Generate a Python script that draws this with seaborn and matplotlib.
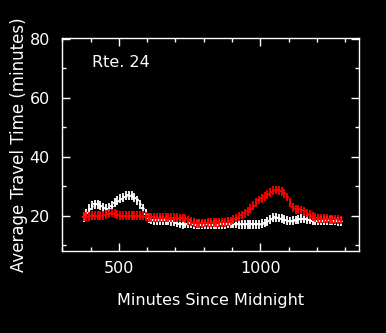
import matplotlib
matplotlib.use("Agg")
import matplotlib.pyplot as plt
from matplotlib.ticker import MultipleLocator, FixedLocator
import seaborn as sns
import pandas as pd

minutes = list(range(375, 1286, 10))

white_time = [19.5, 21.0, 22.5, 23.5, 24.0, 24.0, 23.5, 22.8, 22.5, 22.8,
              23.5, 24.5, 25.2, 25.8, 26.3, 26.8, 27.0, 26.8, 26.2, 25.3,
              24.0, 22.7, 20.8, 19.2, 18.6, 18.5, 18.5, 18.5, 18.5, 18.5,
              18.3, 18.2, 18.0, 17.6, 17.3, 17.2, 17.3, 17.5, 17.3, 17.1,
              17.0, 17.0, 17.0, 17.1, 17.1, 17.0, 17.0, 17.0, 17.1, 17.2,
              17.2, 17.3, 17.3, 17.3, 17.3, 17.2, 17.2, 17.2, 17.1, 17.1,
              17.1, 17.1, 17.2, 17.3, 17.6, 18.2, 18.9, 19.4, 19.5, 19.3,
              19.0, 18.7, 18.4, 18.3, 18.4, 18.6, 18.9, 19.0, 19.0, 18.8,
              18.6, 18.4, 18.3, 18.3, 18.4, 18.5, 18.5, 18.5, 18.4, 18.3,
              18.2, 18.2]

red_time = [19.7, 19.8, 19.9, 20.0, 20.0, 20.0, 20.1, 20.2, 20.5, 20.8,
            21.0, 20.8, 20.4, 20.1, 20.0, 20.0, 20.0, 20.0, 20.0, 20.0,
            20.0, 20.0, 19.8, 19.6, 19.5, 19.4, 19.4, 19.4, 19.4, 19.4,
            19.4, 19.4, 19.4, 19.4, 19.3, 19.3, 19.0, 18.5, 18.0, 17.7,
            17.5, 17.5, 17.5, 17.6, 17.7, 17.7, 17.8, 17.8, 17.8, 17.8,
            17.8, 18.0, 18.3, 18.8, 19.3, 19.8, 20.3, 20.9, 21.6, 22.4,
            23.4, 24.5, 25.4, 26.0, 26.7, 27.4, 28.0, 28.5, 28.8, 28.7,
            28.3, 27.6, 26.4, 24.5, 22.9, 22.3, 22.2, 22.0, 21.5, 21.0,
            20.4, 19.8, 19.4, 19.2, 19.0, 19.0, 19.0, 18.9, 18.8, 18.8,
            18.7, 18.6]

white_err = 1.5
red_err = 1.5
half_bin = 5

x_major = [500, 1000]
y_major = [20, 40, 60, 80]
route_label = "Rte. 24"

sns.set_theme(style="dark", rc={
    "figure.facecolor": "black", "axes.facecolor": "black",
    "axes.edgecolor": "white", "text.color": "white",
    "axes.labelcolor": "white", "xtick.color": "white", "ytick.color": "white",
    "axes.grid": False,
})
plt.rcParams["font.family"] = ["DejaVu Sans"]

fig = plt.figure(figsize=(3.86, 3.33), dpi=100)
ax = fig.add_axes([0.1614, 0.2453, 0.7694, 0.6396])

df = pd.DataFrame({"minutes": minutes, "white": white_time, "red": red_time})

for col, color, err in [("white", "white", white_err), ("red", "#ff0000", red_err)]:
    ax.errorbar(df["minutes"], df[col], xerr=half_bin, yerr=err, fmt="none",
                ecolor=color, elinewidth=1.3, capsize=0)
    sns.scatterplot(data=df, x="minutes", y=col, ax=ax, marker="+", s=4,
                    color=color, linewidth=1, legend=False)

ax.set_xlim(300, 1350)
ax.set_ylim(8, 80.2)
ax.xaxis.set_major_locator(FixedLocator(x_major))
ax.xaxis.set_minor_locator(MultipleLocator(100))
ax.yaxis.set_major_locator(FixedLocator(y_major))
ax.yaxis.set_minor_locator(MultipleLocator(10))
ax.tick_params(which="both", direction="in", top=True, right=True,
               bottom=True, left=True, colors="white", labelsize=11.5)
ax.tick_params(axis="y", pad=9)
ax.tick_params(axis="x", pad=7)
ax.tick_params(which="major", length=6, width=1)
ax.tick_params(which="minor", length=3, width=1)
for s in ax.spines.values():
    s.set_color("white")
    s.set_linewidth(1)

ax.set_xlabel("Minutes Since Midnight", fontsize=11.5, labelpad=12)
ax.set_ylabel("Average Travel Time (minutes)", fontsize=12, labelpad=1)
ax.text(0.1, 0.885, route_label, transform=ax.transAxes, fontsize=11.5,
        color="white", va="center", ha="left")

fig.savefig("out.png", dpi=100, facecolor="black")
